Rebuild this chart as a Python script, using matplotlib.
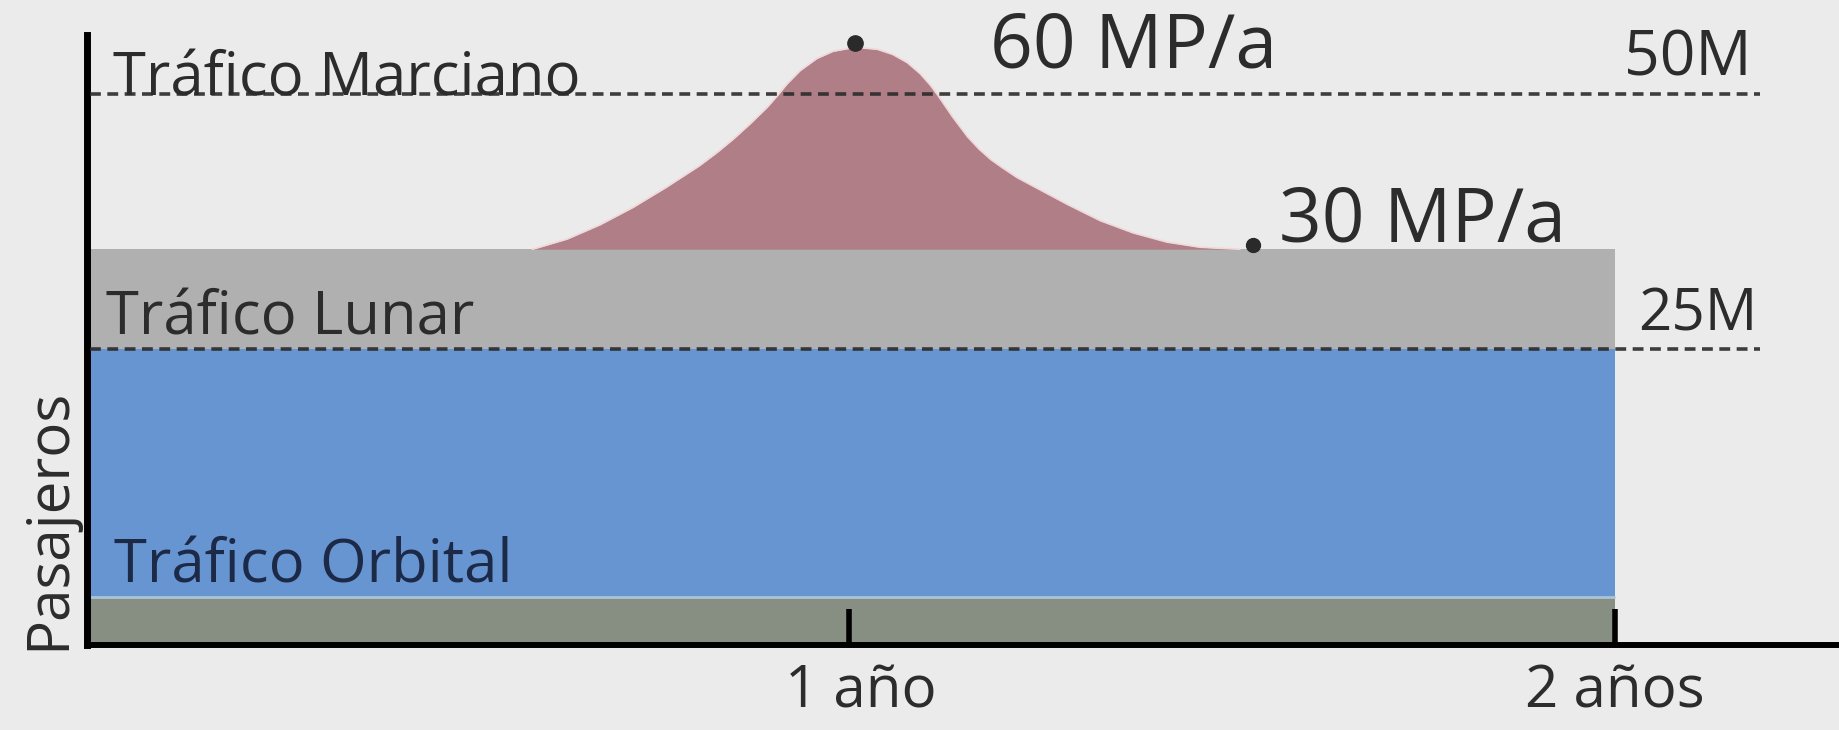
import matplotlib
matplotlib.use("Agg")
import matplotlib.pyplot as plt
from matplotlib.transforms import ScaledTranslation

# ---- data (chart units; 25M / 50M reference lines are 25 units apart) ----
x_ticks = [1, 2]
x_tick_labels = ["1 año", "2 años"]
band_x = [0, 2]
green_top = 4.7
blue_top = 29.0
gray_top = 38.8
ref_levels = [29.0, 54.0]
ref_labels = ["25M", "50M"]
mars_x = [0.587, 0.632, 0.675, 0.718, 0.762, 0.805, 0.828, 0.849, 0.871, 0.893,
          0.907, 0.919, 0.936, 0.958, 0.979, 1.008, 1.037, 1.057, 1.076, 1.093,
          1.106, 1.115, 1.125, 1.135, 1.145, 1.155, 1.170, 1.185, 1.200, 1.220,
          1.240, 1.285, 1.328, 1.371, 1.415, 1.458, 1.510]
mars_y = [38.8, 39.8, 41.2, 42.9, 44.9, 47.0, 48.3, 49.6, 51.1, 52.7,
          53.9, 55.0, 56.3, 57.5, 58.2, 58.6, 58.4, 57.9, 57.1, 56.0,
          54.9, 54.0, 52.9, 51.8, 50.8, 49.8, 48.6, 47.6, 46.8, 45.8,
          45.0, 43.2, 41.6, 40.4, 39.5, 39.0, 38.8]
peak_point = (1.008, 59.0)
end_point = (1.527, 39.2)
peak_label = "60 MP/a"
end_label = "30 MP/a"

FONT = ["Open Sans", "DejaVu Sans"]
TXT = "#2c2c2c"

fig = plt.figure(figsize=(18.4, 7.3), dpi=100)
fig.patch.set_facecolor("#ebebeb")
W, H = 1840, 730
ax = fig.add_axes([87 / W, (H - 645) / H, (W - 87) / W, (645 - 35) / H])
ax.set_facecolor("none")
ax.set_xlim(0.0052, 2.2937)
ax.set_ylim(0, 59.8)

# stacked bands
ax.fill_between(band_x, 0, green_top, color="#878f82", lw=0, zorder=1)
ax.fill_between(band_x, green_top, blue_top, color="#6795d1", lw=0, zorder=1)
ax.hlines(green_top, band_x[0], band_x[1], color="#a9c4d6", lw=2, zorder=2)
ax.fill_between(band_x, blue_top, gray_top, color="#b0b0b0", lw=0, zorder=1)
ax.fill_between(mars_x, gray_top, mars_y, color="#b07e87", lw=0, zorder=1)
ax.plot(mars_x, mars_y, color="#f0d8db", lw=1.2, zorder=2,
        solid_joinstyle="round")

# reference lines
ax.hlines(ref_levels, 0.009, 2.189, colors="#2a2a2a", lw=2.6,
          linestyles=(0, (3.0, 1.8)), alpha=0.9, zorder=3)

# points
ax.plot(*peak_point, "o", color="#2a2a2a", ms=11, clip_on=False, zorder=5)
ax.plot(*end_point, "o", color="#2a2a2a", ms=10, clip_on=False, zorder=5)

# texts
kw = dict(family=FONT, color=TXT, va="baseline", zorder=4)
ax.text(0.039, 53.9, "Tráfico Marciano", fontsize=43, **kw)
ax.text(0.030, 30.4, "Tráfico Lunar", fontsize=43, **kw)
ax.text(0.040, 6.1, "Tráfico Orbital", fontsize=43,
        **{**kw, "color": "#1c2a48"})
ax.text(1.184, 56.6, peak_label, fontsize=54, **kw)
ax.text(1.561, 39.6, end_label, fontsize=54, **kw)
ax.text(2.012, 55.8, ref_labels[1], fontsize=45, **kw)
ax.text(2.030, 30.8, ref_labels[0], fontsize=42, **kw)

# axes
for s in ["top", "right"]:
    ax.spines[s].set_visible(False)
ax.spines["left"].set_linewidth(5)
ax.spines["bottom"].set_linewidth(4.3)
ax.spines["left"].set_color("black")
ax.spines["bottom"].set_color("black")
ax.set_yticks([])
ax.set_xticks(x_ticks)
ax.set_xticklabels(x_tick_labels, family=FONT, fontsize=42, color=TXT)
ax.tick_params(axis="x", direction="in", length=26, width=4, pad=13,
               color="black")
first = ax.get_xticklabels()[0]
first.set_transform(first.get_transform()
                    + ScaledTranslation(0.12, 0, fig.dpi_scale_trans))
ax.set_ylabel("Pasajeros", family=FONT, fontsize=42, color=TXT)
ax.yaxis.set_label_coords(-0.0052, 0.207)

fig.savefig("out.png", dpi=100, facecolor=fig.get_facecolor())
